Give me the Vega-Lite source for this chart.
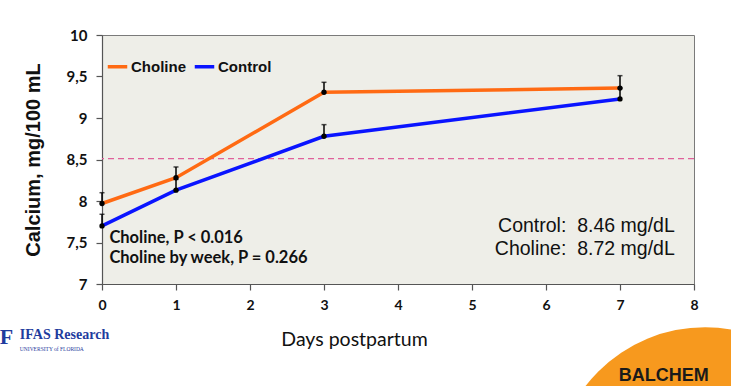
{
  "$schema": "https://vega.github.io/schema/vega-lite/v6.json",
  "width": 592,
  "height": 249,
  "autosize": {"type": "none"},
  "padding": {"left": 102, "top": 35, "right": 37, "bottom": 102},
  "background": "white",
  "config": {
    "view": {"fill": "#EEEEE8", "stroke": "#7a7a7a", "strokeWidth": 1},
    "font": "Lato",
    "axis": {"grid": false, "domainColor": "#555555", "tickColor": "#555555", "domainWidth": 1.2, "tickWidth": 1.2, "labelFlush": false}
  },
  "datasets": {
    "calcium": [
      {"day": 0, "group": "Choline", "ca": 7.97, "upper": 8.10},
      {"day": 1, "group": "Choline", "ca": 8.28, "upper": 8.41},
      {"day": 3, "group": "Choline", "ca": 9.31, "upper": 9.43},
      {"day": 7, "group": "Choline", "ca": 9.36, "upper": 9.51},
      {"day": 0, "group": "Control", "ca": 7.70, "upper": 7.84},
      {"day": 1, "group": "Control", "ca": 8.13, "upper": 8.26},
      {"day": 3, "group": "Control", "ca": 8.78, "upper": 8.92},
      {"day": 7, "group": "Control", "ca": 9.23, "upper": 9.36}
    ],
    "reference": [{"ref": 8.51}],
    "notesLeft": [
      {"x": 0.1, "y": 7.55, "label": "Choline, P < 0.016"},
      {"x": 0.1, "y": 7.31, "label": "Choline by week, P = 0.266"}
    ],
    "notesRight": [
      {"x": 7.74, "y": 7.70, "label": "Control: \u00a08.46 mg/dL"},
      {"x": 7.74, "y": 7.42, "label": "Choline: \u00a08.72 mg/dL"}
    ],
    "logoCircle": [{"x": 8.15, "y": 4.66}],
    "logoBalchem": [{"x": 7.59, "y": 5.89, "label": "BALCHEM"}],
    "logoF": [{"x": -1.29, "y": 6.36, "label": "F"}],
    "logoIfas": [{"x": -1.11, "y": 6.38, "label": "IFAS Research"}],
    "logoUf": [{"x": -1.11, "y": 6.22, "label": "UNIVERSITY of FLORIDA"}]
  },
  "layer": [
    {
      "data": {"name": "reference"},
      "mark": {"type": "rule", "color": "#E0609A", "strokeDash": [6, 4], "strokeWidth": 1.3},
      "encoding": {
        "y": {"field": "ref", "type": "quantitative", "scale": {"domain": [7, 10], "nice": false}}
      }
    },
    {
      "data": {"name": "calcium"},
      "mark": {"type": "line", "strokeWidth": 3.5},
      "encoding": {
        "x": {
          "field": "day", "type": "quantitative",
          "scale": {"domain": [0, 8], "nice": false},
          "axis": {
            "values": [0, 1, 2, 3, 4, 5, 6, 7, 8], "format": "d",
            "tickSize": 6, "labelPadding": 8,
            "labelFont": "Lato", "labelFontSize": 14, "labelFontWeight": "bold", "labelColor": "#111111",
            "title": "Days postpartum", "titleFont": "Lato", "titleFontSize": 19.5, "titleFontWeight": "normal",
            "titleColor": "#111111", "titlePadding": 18, "titleX": 252
          }
        },
        "y": {
          "field": "ca", "type": "quantitative",
          "scale": {"domain": [7, 10], "nice": false, "zero": false},
          "axis": {
            "values": [7, 7.5, 8, 8.5, 9, 9.5, 10],
            "format": ".1~f",
            "labelExpr": "replace(datum.label, '.', ',')",
            "tickSize": 6, "labelPadding": 9,
            "labelFont": "Lato", "labelFontSize": 15, "labelFontWeight": "bold", "labelColor": "#111111",
            "title": "Calcium, mg/100 mL", "titleFont": "Liberation Sans", "titleFontSize": 20,
            "titleFontWeight": "bold", "titleColor": "#111111", "titlePadding": 23
          }
        },
        "color": {
          "field": "group", "type": "nominal",
          "scale": {"domain": ["Choline", "Control"], "range": ["#FF6A13", "#0A14FF"]},
          "legend": {
            "title": null, "orient": "none", "legendX": 4, "legendY": 20, "direction": "horizontal",
            "symbolType": "stroke", "symbolStrokeWidth": 3.5, "symbolSize": 380,
            "labelFont": "Liberation Sans", "labelFontSize": 15, "labelFontWeight": "bold", "labelColor": "#111111",
            "columnPadding": 1, "labelOffset": 2
          }
        }
      }
    },
    {
      "data": {"name": "calcium"},
      "mark": {"type": "rule", "color": "black", "strokeWidth": 1.5},
      "encoding": {
        "x": {"field": "day", "type": "quantitative"},
        "y": {"field": "ca", "type": "quantitative"},
        "y2": {"field": "upper"}
      }
    },
    {
      "data": {"name": "calcium"},
      "mark": {"type": "tick", "orient": "horizontal", "color": "black", "size": 5, "thickness": 1.5},
      "encoding": {
        "x": {"field": "day", "type": "quantitative"},
        "y": {"field": "upper", "type": "quantitative"}
      }
    },
    {
      "data": {"name": "calcium"},
      "mark": {"type": "point", "filled": true, "color": "black", "size": 28, "opacity": 1},
      "encoding": {
        "x": {"field": "day", "type": "quantitative"},
        "y": {"field": "ca", "type": "quantitative"}
      }
    },
    {
      "data": {"name": "notesLeft"},
      "mark": {"type": "text", "align": "left", "baseline": "middle", "font": "Lato", "fontSize": 16.5, "fontWeight": "bold", "color": "#111111"},
      "encoding": {
        "x": {"field": "x", "type": "quantitative"},
        "y": {"field": "y", "type": "quantitative"},
        "text": {"field": "label"}
      }
    },
    {
      "data": {"name": "notesRight"},
      "mark": {"type": "text", "align": "right", "baseline": "middle", "font": "Liberation Sans", "fontSize": 19.5, "color": "#111111"},
      "encoding": {
        "x": {"field": "x", "type": "quantitative"},
        "y": {"field": "y", "type": "quantitative"},
        "text": {"field": "label"}
      }
    },
    {
      "data": {"name": "logoCircle"},
      "mark": {"type": "point", "shape": "circle", "filled": true, "color": "#F7991E", "opacity": 1, "size": 91200, "clip": false},
      "encoding": {
        "x": {"field": "x", "type": "quantitative"},
        "y": {"field": "y", "type": "quantitative"}
      }
    },
    {
      "data": {"name": "logoBalchem"},
      "mark": {"type": "text", "align": "center", "baseline": "middle", "font": "Liberation Sans", "fontSize": 18, "fontWeight": "bold", "color": "#1a1a1a"},
      "encoding": {
        "x": {"field": "x", "type": "quantitative"},
        "y": {"field": "y", "type": "quantitative"},
        "text": {"field": "label"}
      }
    },
    {
      "data": {"name": "logoF"},
      "mark": {"type": "text", "align": "center", "baseline": "middle", "font": "Liberation Serif", "fontSize": 22, "fontWeight": "bold", "color": "#1F3C9E"},
      "encoding": {
        "x": {"field": "x", "type": "quantitative"},
        "y": {"field": "y", "type": "quantitative"},
        "text": {"field": "label"}
      }
    },
    {
      "data": {"name": "logoIfas"},
      "mark": {"type": "text", "align": "left", "baseline": "middle", "font": "Liberation Serif", "fontSize": 14, "fontWeight": "bold", "color": "#1F3C9E"},
      "encoding": {
        "x": {"field": "x", "type": "quantitative"},
        "y": {"field": "y", "type": "quantitative"},
        "text": {"field": "label"}
      }
    },
    {
      "data": {"name": "logoUf"},
      "mark": {"type": "text", "align": "left", "baseline": "middle", "font": "Liberation Serif", "fontSize": 5.5, "color": "#1F3C9E"},
      "encoding": {
        "x": {"field": "x", "type": "quantitative"},
        "y": {"field": "y", "type": "quantitative"},
        "text": {"field": "label"}
      }
    }
  ]
}
